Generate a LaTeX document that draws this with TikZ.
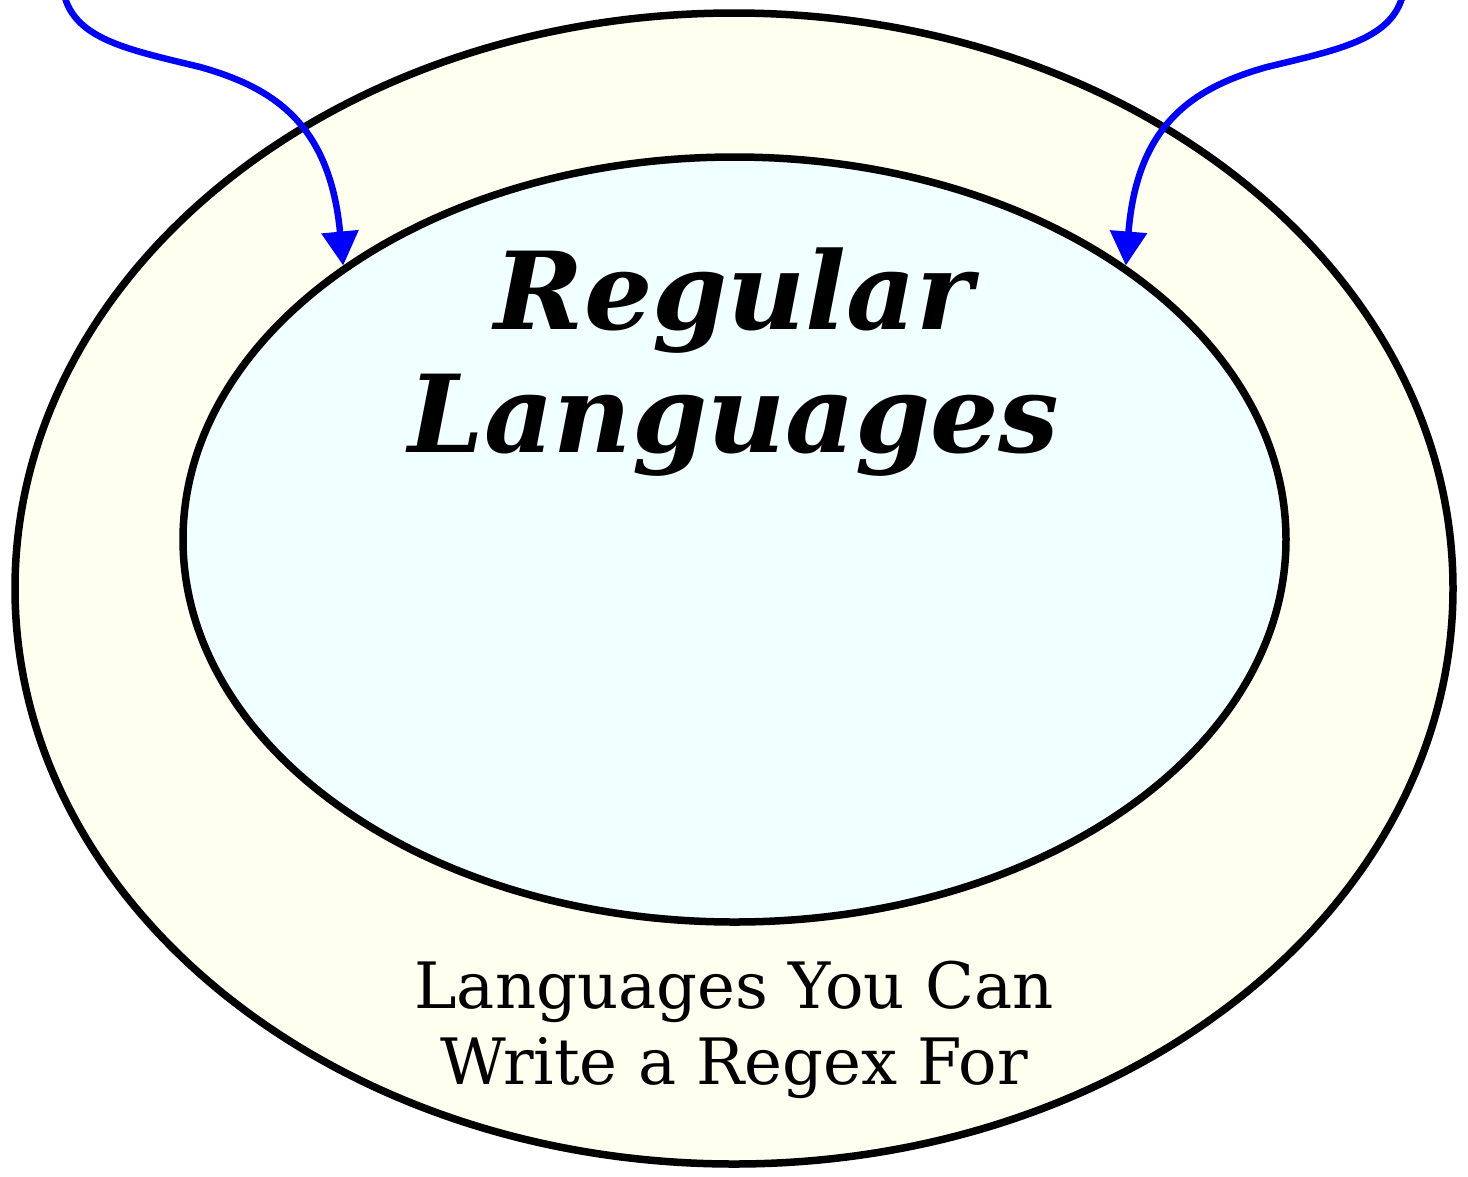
\documentclass[tikz,border=0pt]{standalone}
\usepackage{fontspec}
\setmainfont{DejaVu Serif}
\usetikzlibrary{arrows.meta,shapes.geometric}
\definecolor{outerfill}{RGB}{255,255,240}
\definecolor{innerfill}{RGB}{240,255,255}
\tikzset{
  langset/.style={ellipse,draw,line width=0.75mm,inner sep=0pt},
  arr/.style={draw=blue,line width=0.65mm,-{Triangle[width=3.6mm,length=3.4mm]}}
}
\begin{document}
\begin{tikzpicture}[x=0.1mm,y=-0.1mm]
\useasboundingbox (0,0) rectangle (1468,1176);
\clip (0,0) rectangle (1468,1176);
\path
(734,588.5) node[langset,fill=outerfill,minimum width=143.8mm,minimum height=115.1mm](outer) {}
(734.5,539.5) node[langset,fill=innerfill,minimum width=110.3mm,minimum height=76.5mm](inner) {}
(734,362) node[font=\bfseries\itshape\fontsize{30.6}{35.2}\selectfont,align=center](reg) {Regular\\Languages}
(734,1030) node[font=\fontsize{18.2}{21.5}\selectfont,align=center](regex) {Languages You Can\\Write a Regex For}
(65,-2) coordinate(lsrc)
(1402,-2) coordinate(rsrc);

\draw[arr] (lsrc) .. controls (78,40) and (130,50) .. (200,67)
  .. controls (275,88) and (330,125) .. (inner.145.3);
\draw[arr] (rsrc) .. controls (1389,40) and (1337,50) .. (1267,67)
  .. controls (1192,88) and (1137,125) .. (inner.35.6);
\end{tikzpicture}
\end{document}
